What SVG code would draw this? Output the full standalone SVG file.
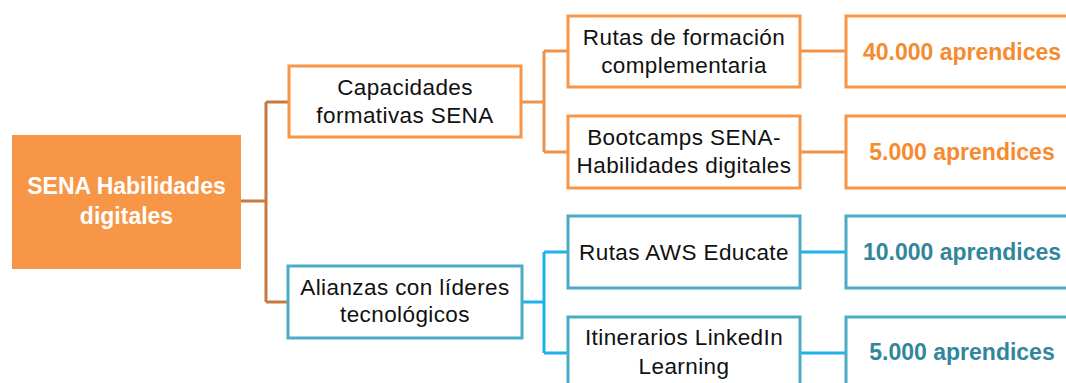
<svg xmlns="http://www.w3.org/2000/svg" width="1066" height="383" viewBox="0 0 1066 383">
<style>
.box{fill:#fff;stroke-width:3}
.o{stroke:#F79646}
.b{stroke:#4BACC6}
.t{font-family:"Liberation Sans",Arial,sans-serif;font-size:22.5px;letter-spacing:0.4px;fill:#111;text-anchor:middle}
.n{font-family:"Liberation Sans",Arial,sans-serif;font-size:23px;font-weight:bold;text-anchor:middle}
.no{fill:#F68A2E}
.nb{fill:#31869D}
.co{fill:none;stroke:#C77A3E;stroke-width:3}
.cl{fill:none;stroke:#F0924A;stroke-width:3}
.cb{fill:none;stroke:#1DB2EC;stroke-width:3}
</style>
<rect width="1066" height="383" fill="#fff"/>
<g id="connectors">
<path class="co" d="M241 201H266M266 102V302M266 102H289M266 302H288"/>
<path class="cl" d="M521 102H544M544 51V152M544 51H568M544 152H568M800 51H846M800 152H846"/>
<path class="cb" d="M522 302H544M544 252V353M544 252H568M544 353H568M800 252H846M800 353H846"/>
</g>
<g id="root">
<rect x="12" y="135" width="229" height="134" fill="#F79646"/>
<text class="n" x="126.5" y="194" fill="#fff">SENA Habilidades</text>
<text class="n" x="126.5" y="224" fill="#fff">digitales</text>
</g>
<g id="capacidades">
<rect class="box o" x="289" y="66" width="232" height="71"/>
<text class="t" x="405" y="95">Capacidades</text>
<text class="t" x="405" y="123">formativas SENA</text>
</g>
<g id="alianzas">
<rect class="box b" x="288" y="266" width="234" height="72"/>
<text class="t" x="405" y="295">Alianzas con líderes</text>
<text class="t" x="405" y="322">tecnológicos</text>
</g>
<g id="rutas">
<rect class="box o" x="568" y="16" width="232" height="71"/>
<text class="t" x="684" y="45">Rutas de formación</text>
<text class="t" x="684" y="73">complementaria</text>
</g>
<g id="bootcamps">
<rect class="box o" x="568" y="116" width="232" height="72"/>
<text class="t" x="684" y="145">Bootcamps SENA-</text>
<text class="t" x="684" y="173">Habilidades digitales</text>
</g>
<g id="aws">
<rect class="box b" x="568" y="216" width="232" height="72"/>
<text class="t" x="684" y="260">Rutas AWS Educate</text>
</g>
<g id="linkedin">
<rect class="box b" x="568" y="317" width="232" height="72"/>
<text class="t" x="684" y="345">Itinerarios LinkedIn</text>
<text class="t" x="684" y="374">Learning</text>
</g>
<g id="n40000">
<rect class="box o" x="846" y="16" width="232" height="71"/>
<text class="n no" x="962" y="60">40.000 aprendices</text>
</g>
<g id="n5000a">
<rect class="box o" x="846" y="116" width="232" height="72"/>
<text class="n no" x="962" y="160">5.000 aprendices</text>
</g>
<g id="n10000">
<rect class="box b" x="846" y="216" width="232" height="72"/>
<text class="n nb" x="962" y="260">10.000 aprendices</text>
</g>
<g id="n5000b">
<rect class="box b" x="846" y="317" width="232" height="72"/>
<text class="n nb" x="962" y="360">5.000 aprendices</text>
</g>
</svg>
